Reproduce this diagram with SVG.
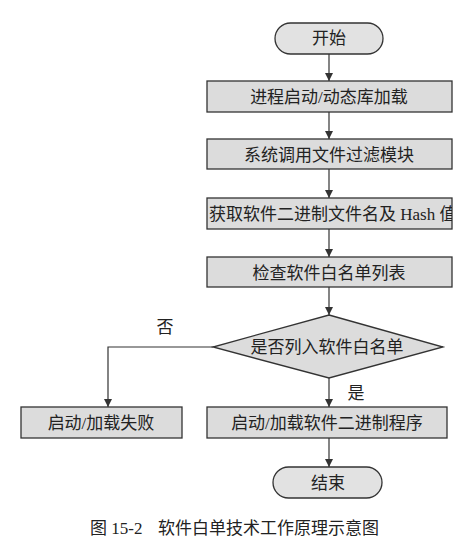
<svg xmlns="http://www.w3.org/2000/svg" width="456" height="556" viewBox="0 0 456 556">
<style>
  .box { fill: #dcdcdc; stroke: #333; stroke-width: 1.3; }
  .term { fill: #e2e2e2; stroke: #333; stroke-width: 1.3; }
  .t { font-family: "Liberation Serif", "Noto Sans CJK SC", serif; font-size: 17px; fill: #222; text-anchor: middle; }
  .cap { font-family: "Liberation Serif", "Noto Sans CJK SC", serif; font-size: 17px; fill: #222; }
  .edge { fill: none; stroke: #333; stroke-width: 1.2; marker-end: url(#ah); }
</style>
<defs>
  <marker id="ah" viewBox="0 0 10 10" refX="10" refY="5" markerWidth="8" markerHeight="8" markerUnits="userSpaceOnUse" orient="auto">
    <path d="M0,0 L10,5 L0,10 z" fill="#333"/>
  </marker>
  <clipPath id="c3"><rect x="207" y="198" width="245" height="31"/></clipPath>
</defs>
<rect width="456" height="556" fill="#fff"/>
<g id="connectors">
  <path class="edge" d="M329,54 V81"/>
  <path class="edge" d="M329,112 V139"/>
  <path class="edge" d="M329,169 V198"/>
  <path class="edge" d="M329,229 V257"/>
  <path class="edge" d="M329,287 V315"/>
  <path class="edge" d="M213,347 H108 V407"/>
  <path class="edge" d="M329,378 V407"/>
  <path class="edge" d="M329,438 V467"/>
  <text class="t" x="165" y="333">否</text>
  <text class="t" x="356" y="399">是</text>
</g>
<g id="start">
  <rect class="term" x="275" y="23" width="108" height="31" rx="15.5"/>
  <text class="t" x="329" y="44">开始</text>
</g>
<g id="n1">
  <rect class="box" x="207" y="81" width="245" height="31"/>
  <text class="t" x="329" y="102.5">进程启动/动态库加载</text>
</g>
<g id="n2">
  <rect class="box" x="207" y="139" width="245" height="30"/>
  <text class="t" x="329" y="160.5">系统调用文件过滤模块</text>
</g>
<g id="n3">
  <rect class="box" x="207" y="198" width="245" height="31"/>
  <text class="t" x="209" y="219.5" style="text-anchor:start" clip-path="url(#c3)">获取软件二进制文件名及 Hash 值</text>
</g>
<g id="n4">
  <rect class="box" x="207" y="257" width="245" height="30"/>
  <text class="t" x="329" y="278.5">检查软件白名单列表</text>
</g>
<g id="decision">
  <polygon class="box" points="329,315 443,347 329,378 213,347"/>
  <text class="t" x="327" y="353">是否列入软件白名单</text>
</g>
<g id="fail">
  <rect class="box" x="21" y="407" width="161" height="31"/>
  <text class="t" x="101" y="428.5">启动/加载失败</text>
</g>
<g id="run">
  <rect class="box" x="207" y="407" width="240" height="31"/>
  <text class="t" x="327" y="428.5">启动/加载软件二进制程序</text>
</g>
<g id="end">
  <rect class="term" x="273" y="467" width="109" height="31" rx="15.5"/>
  <text class="t" x="328" y="488.5">结束</text>
</g>
<text class="cap" x="90" y="534">图 15-2<tspan x="158">软件白单技术工作原理示意图</tspan></text>
</svg>
